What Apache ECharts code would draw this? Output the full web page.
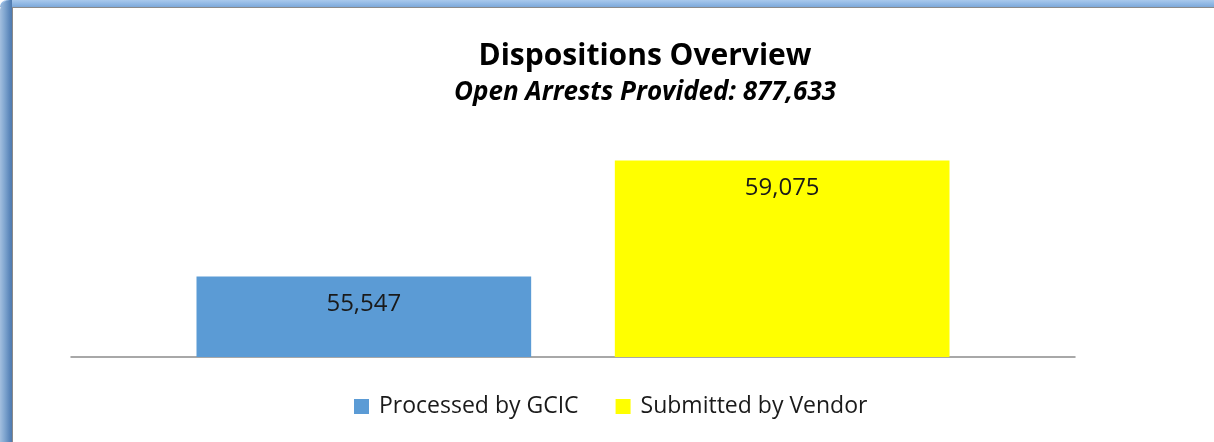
<!DOCTYPE html>
<html><head><meta charset="utf-8">
<script src="https://cdn.jsdelivr.net/npm/echarts@6/dist/echarts.min.js"></script>
<style>
html,body{margin:0;padding:0;width:1214px;height:442px;overflow:hidden;background:#fff;}
#frameTop{position:absolute;left:0;top:0;width:1214px;height:7px;background:linear-gradient(to bottom,#a9c9ec,#8db6e3 60%,#7ea8d8);border-top-left-radius:10px;}
#frameLeft{position:absolute;left:0;top:0;width:12px;height:442px;background:linear-gradient(to right,#a3bfdf,#7fa5cf 40%,#5783b8 85%,#4f7aae);border-top-left-radius:10px;}
#inner{position:absolute;left:12px;top:7px;width:1202px;height:435px;background:#fff;border-left:1px solid #8a8a8a;border-top:1px solid #8a8a8a;box-sizing:border-box;}
#chart{position:absolute;left:0;top:0;width:1214px;height:442px;}
</style></head>
<body>
<div id="frameTop"></div><div id="frameLeft"></div><div id="inner"></div>
<div id="chart"></div>
<script>
const categories = ['Dispositions'];
const seriesNames = ['Processed by GCIC', 'Submitted by Vendor'];
const processedValues = [55547];
const submittedValues = [59075];
const titleText = 'Dispositions Overview';
const subtitleText = 'Open Arrests Provided: 877,633';

const chart = echarts.init(document.getElementById('chart'));
const fmt = p => p.value.toLocaleString('en-US');
const labelStyle = {show: true, position: 'insideTop', distance: 16, formatter: fmt, fontFamily: 'Open Sans', fontSize: 24, color: '#1a1a1a'};
chart.setOption({
  backgroundColor: 'transparent',
  animation: false,
  title: [{
    text: titleText,
    left: 640, top: 36, textAlign: 'center',
    textStyle: {fontFamily: 'Open Sans', fontWeight: 'bold', fontSize: 30, color: '#000'}
  }, {
    text: subtitleText,
    left: 640, top: 75, textAlign: 'center',
    textStyle: {fontFamily: 'Open Sans', fontWeight: 'bold', fontStyle: 'italic', fontSize: 26, color: '#000'}
  }],
  legend: {
    data: seriesNames,
    top: 390, left: 349,
    itemWidth: 15, itemHeight: 15, itemGap: 37,
    icon: 'rect',
    textStyle: {fontFamily: 'Open Sans', fontSize: 23, color: '#1a1a1a', padding: [0, 0, 0, 5]}
  },
  grid: {left: 71, right: 1214 - 1075, top: 130, bottom: 442 - 357},
  xAxis: {
    type: 'category', data: categories,
    axisLine: {lineStyle: {color: '#8c8c8c', width: 1.5}},
    axisTick: {show: false}, axisLabel: {show: false}
  },
  yAxis: {type: 'value', min: 53100, max: 60000, show: false, splitLine: {show: false}},
  series: [
    {name: seriesNames[0], type: 'bar', data: processedValues, barGap: '25%', barCategoryGap: '25%',
     itemStyle: {color: '#5b9bd5'}, label: labelStyle},
    {name: seriesNames[1], type: 'bar', data: submittedValues,
     itemStyle: {color: '#ffff00'}, label: labelStyle}
  ]
});
</script>
</body></html>
